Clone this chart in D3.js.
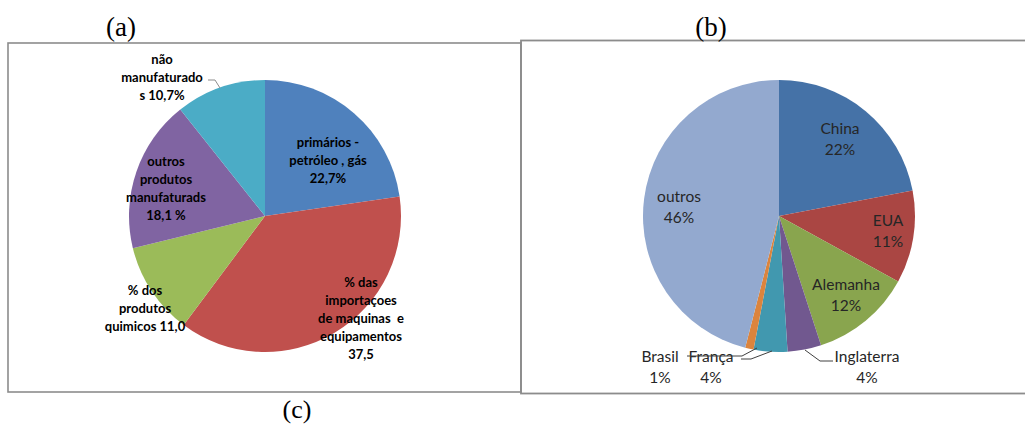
<!DOCTYPE html>
<html>
<head>
<meta charset="utf-8">
<script src="https://cdn.jsdelivr.net/npm/d3@7"></script>
<style>
  html, body { margin: 0; padding: 0; background: #fff; }
  svg { display: block; }
  text { white-space: pre; }
</style>
</head>
<body>
<svg id="chart" width="1025" height="425"></svg>
<script>
// Import composition by product group (left pie)
const productLabels = [
  ["primários -", "petróleo , gás", "22,7%"],
  ["% das", "importaçoes", "de maquinas  e", "equipamentos", "37,5"],
  ["% dos", "produtos", "quimicos 11,0"],
  ["outros", "produtos", "manufaturads", "18,1 %"],
  ["não", "manufaturado", "s 10,7%"]
];
const productValues = [22.7, 37.5, 11.0, 18.1, 10.7];
const productColors = ["#4F81BD", "#C0504D", "#9BBB59", "#8064A2", "#4BACC6"];

// Imports by country of origin (right pie)
const countryNames = ["China", "EUA", "Alemanha", "Inglaterra", "França", "Brasil", "outros"];
const countryValues = [22, 11, 12, 4, 4, 1, 46];
const countryColors = ["#4572A7", "#AA4643", "#89A54E", "#71588F", "#4198AF", "#DB843D", "#93A9CF"];

const panelTitles = ["(a)", "(b)", "(c)"];

// Label placement (text-block centre relative to pie centre), one per slice
const productLabelPos = [[63, -56], [96, 102], [-120, 92], [-99, -28], [-103, -139]];
const countryLabelPos = [[61, -76.5], [109, 15.5], [67, 79.5], [88, 151], [-68, 151], [-119, 151], [-100, -8.5]];

const svg = d3.select("#chart");
const R = 136;

// Frames
svg.append("rect").attr("x", 8).attr("y", 43).attr("width", 513).attr("height", 349)
  .attr("fill", "none").attr("stroke", "#8c8c8c").attr("stroke-width", 1.6);
svg.append("rect").attr("x", 521).attr("y", 40.5).attr("width", 510).attr("height", 353)
  .attr("fill", "none").attr("stroke", "#8c8c8c").attr("stroke-width", 1.8);

// Panel titles
const titleFont = "'Liberation Serif', 'DejaVu Serif', serif";
svg.append("text").attr("x", 121).attr("y", 36).attr("text-anchor", "middle")
  .attr("font-family", titleFont).attr("font-size", 27).text(panelTitles[0]);
svg.append("text").attr("x", 711).attr("y", 36).attr("text-anchor", "middle")
  .attr("font-family", titleFont).attr("font-size", 27).text(panelTitles[1]);
svg.append("text").attr("x", 297).attr("y", 418).attr("text-anchor", "middle")
  .attr("font-family", titleFont).attr("font-size", 26).text(panelTitles[2]);

const pie = d3.pie().sort(null).value(d => d);
const arc = d3.arc().innerRadius(0).outerRadius(R);

function drawPie(cx, cy, values, colors) {
  const g = svg.append("g").attr("transform", `translate(${cx},${cy})`);
  g.selectAll("path").data(pie(values)).enter().append("path")
    .attr("d", arc)
    .attr("fill", (d, i) => colors[i]);
  return g;
}

// Left pie
const gL = drawPie(265, 216, productValues, productColors);
const leftFont = "Lato, 'Open Sans', sans-serif";
productLabels.forEach((lines, i) => {
  const [dx, dy] = productLabelPos[i];
  const t = gL.append("text")
    .attr("text-anchor", "middle")
    .attr("font-family", leftFont).attr("font-weight", "bold")
    .attr("font-size", 13).attr("fill", "#000");
  const top = dy - (lines.length - 1) * 18 / 2;
  lines.forEach((ln, k) => {
    t.append("tspan").attr("x", dx).attr("y", top + k * 18 + 4.5).text(ln);
  });
});
// leader for the "não manufaturados" label
gL.append("path").attr("d", "M-57,-136 L-50,-136 L-45,-128")
  .attr("fill", "none").attr("stroke", "#8c8c8c").attr("stroke-width", 1);

// Right pie
const gR = drawPie(779, 216, countryValues, countryColors);
const rightFont = "Lato, 'Open Sans', sans-serif";
countryNames.forEach((name, i) => {
  const [dx, dy] = countryLabelPos[i];
  const t = gR.append("text")
    .attr("text-anchor", "middle")
    .attr("font-family", rightFont)
    .attr("font-size", 15.5).attr("fill", "#262626");
  t.append("tspan").attr("x", dx).attr("y", dy - 10.5 + 5).text(name);
  t.append("tspan").attr("x", dx).attr("y", dy + 10.5 + 5).text(countryValues[i] + "%");
});
// leader lines for the small slices
const leaders = [
  "M-92,140 L-37,140 L-22,132",   // Brasil
  "M-38,143 L-28,143 L-7,135",    // França
  "M26,134 L41,145 L54,145"       // Inglaterra
];
gR.selectAll("path.leader").data(leaders).enter().append("path")
  .attr("class", "leader")
  .attr("d", d => d)
  .attr("fill", "none").attr("stroke", "#404040").attr("stroke-width", 1);
</script>
</body>
</html>
